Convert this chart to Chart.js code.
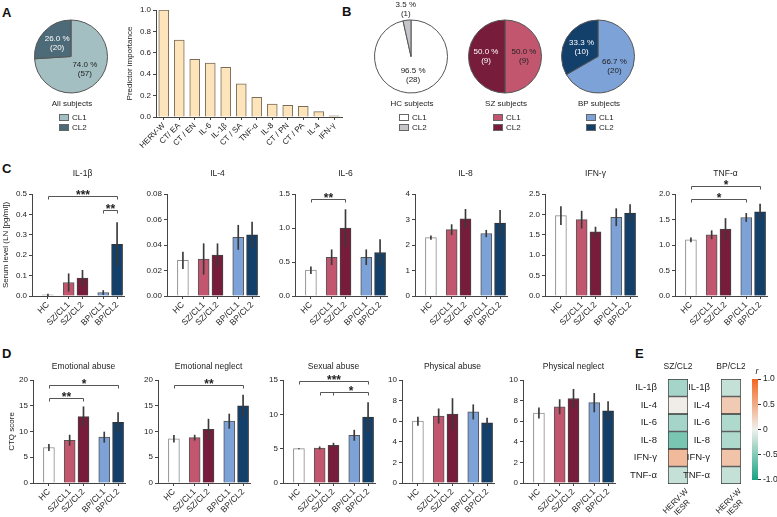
<!DOCTYPE html>
<html>
<head>
<meta charset="utf-8">
<script src="https://cdn.jsdelivr.net/npm/chart.js@4.4.0/dist/chart.umd.min.js"></script>
<style>
body { margin: 0; background: #fff; }
#fig { position: relative; width: 777px; height: 517px; overflow: hidden; background: #fff;
       font-family: "Liberation Sans", Arial, sans-serif; }
#fig canvas { position: absolute; }
.lt { position: absolute; font-weight: bold; font-size: 13px; line-height: 13px; color: #111; }
</style>
</head>
<body>
<div id="fig">
  <div class="lt" style="left:2px;top:6px">A</div>
  <div class="lt" style="left:342px;top:5px">B</div>
  <div class="lt" style="left:2px;top:162px">C</div>
  <div class="lt" style="left:2px;top:347px">D</div>
  <div class="lt" style="left:635px;top:347px">E</div>
</div>
<script>
// ---- data ----
var clusterLabels = ['CL1', 'CL2'];
var pieAllPct = [74.0, 26.0], pieAllN = [57, 20];
var pieHCPct = [96.5, 3.5], pieHCN = [28, 1];
var pieSZPct = [50.0, 50.0], pieSZN = [9, 9];
var pieBPPct = [66.7, 33.3], pieBPN = [20, 10];

var importanceLabels = ['HERV-W', 'CT/ EA', 'CT / EN', 'IL-6', 'IL-1β', 'CT / SA', 'TNF-α', 'IL-8', 'CT / PN', 'CT / PA', 'IL-4', 'IFN-γ'];
var importance = [1.0, 0.72, 0.54, 0.505, 0.465, 0.31, 0.185, 0.12, 0.11, 0.10, 0.05, 0.01];

var groups = ['HC', 'SZ/CL1', 'SZ/CL2', 'BP/CL1', 'BP/CL2'];
var clusterSizes = [1, 2, 2];

var il1bMean = [0.006, 0.066, 0.088, 0.017, 0.253], il1bSem = [0.004, 0.043, 0.038, 0.010, 0.107];
var il4Mean = [0.028, 0.029, 0.032, 0.046, 0.048], il4Sem = [0.0065, 0.012, 0.009, 0.0095, 0.010];
var il6Mean = [0.38, 0.57, 1.0, 0.57, 0.64], il6Sem = [0.05, 0.11, 0.27, 0.11, 0.19];
var il8Mean = [2.29, 2.6, 3.03, 2.45, 2.86], il8Sem = [0.07, 0.2, 0.37, 0.13, 0.5];
var ifngMean = [1.97, 1.87, 1.57, 1.93, 2.03], ifngSem = [0.22, 0.21, 0.12, 0.21, 0.21];
var tnfaMean = [1.1, 1.2, 1.31, 1.54, 1.65], tnfaSem = [0.04, 0.08, 0.21, 0.08, 0.15];

var eaMean = [6.9, 8.3, 12.9, 8.9, 11.8], eaSem = [0.6, 1.0, 1.9, 1.0, 1.85];
var enMean = [8.6, 8.8, 10.4, 12.0, 15.0], enSem = [0.65, 0.5, 2.0, 1.4, 2.05];
var saMean = [5.0, 5.1, 5.5, 6.95, 9.6], saSem = [0.03, 0.18, 0.3, 0.75, 2.1];
var paMean = [6.0, 6.5, 6.7, 6.9, 5.85], paSem = [0.4, 0.7, 1.5, 0.7, 0.45];
var pnMean = [6.8, 7.4, 8.2, 7.8, 7.0], pnSem = [0.5, 0.7, 0.9, 0.9, 0.9];

// significance brackets: a/b = group index, y = height in data units
var il1bSig = [{a: 0, b: 4, y: 0.49, t: '***'}, {a: 3, b: 4, y: 0.42, t: '**'}];
var il6Sig = [{a: 0, b: 2, y: 1.42, t: '**'}];
var tnfaSig = [{a: 0, b: 4, y: 2.15, t: '*'}, {a: 0, b: 3, y: 1.9, t: '*'}];
var eaSig = [{a: 0, b: 4, y: 19.0, t: '*'}, {a: 0, b: 2, y: 16.5, t: '**'}];
var enSig = [{a: 0, b: 4, y: 19.0, t: '**'}];
var saSig = [{a: 0, b: 4, y: 14.85, t: '***'}, {a: 1, b: 4, mid: [2], y: 13.3, t: '*'}];

var cytokines = ['IL-1β', 'IL-4', 'IL-6', 'IL-8', 'IFN-γ', 'TNF-α'];
var heatSZ = [-0.35, 0.02, -0.35, -0.55, 0.4, -0.2];
var heatBP = [-0.2, 0.28, -0.3, -0.3, 0.33, -0.2];
var heatXLabel = ['HERV-W', 'IESR'];
var colorTicks = [-1, -0.5, 0, 0.5, 1];

// ---- styles ----
var groupFill = ['#ffffff', '#c2566f', '#781c3b', '#7da2d8', '#133f6b'];
var groupBorder = ['#8c8c8c', '#555', '#444', '#555', '#333'];
var FONT = '"Liberation Sans", Arial, sans-serif';

Chart.defaults.font.family = FONT;
Chart.defaults.font.size = 8;
Chart.defaults.color = '#222';
Chart.defaults.animation = false;
Chart.defaults.plugins.legend.display = false;
Chart.defaults.plugins.tooltip.enabled = false;

var fig = document.getElementById('fig');

// x positions of the five groups, with a half gap between clusters
var xPos = [], p = 0;
clusterSizes.forEach(function (n, k) {
  if (k) p += 0.5;
  for (var j = 0; j < n; j++) { xPos.push(p); p++; }
});

function mk(w, h) {
  var c = document.createElement('canvas');
  c.width = w; c.height = h;
  c.style.width = w + 'px'; c.style.height = h + 'px';
  fig.appendChild(c);
  return c;
}
function place(chart, x, y, px, py) {
  chart.canvas.style.left = Math.round(x - px) + 'px';
  chart.canvas.style.top = Math.round(y - py) + 'px';
}
function lum(hex) {
  var v = parseInt(hex.slice(1), 16);
  return (0.299 * (v >> 16) + 0.587 * ((v >> 8) & 255) + 0.114 * (v & 255)) / 255;
}
function rColor(r) {
  var neg = [24, 163, 132], mid = [240, 240, 236], pos = [242, 104, 34];
  var e = r < 0 ? neg : pos, t = Math.min(1, Math.abs(r));
  return 'rgb(' + mid.map(function (m, k) { return Math.round(m + (e[k] - m) * t); }).join(',') + ')';
}

// ---- pies ----
function pieChart(pct, n, colors, caption, cx, cy) {
  var cv = mk(120, 140);
  var ch = new Chart(cv, {
    type: 'pie',
    data: { labels: clusterLabels, datasets: [{ data: pct, backgroundColor: colors, borderColor: '#555', borderWidth: 1 }] },
    options: { responsive: false, devicePixelRatio: 1, layout: { padding: { top: 22, bottom: 43, left: 23, right: 23 } } },
    plugins: [{
      id: 'pieDecor',
      afterDraw: function (ch) {
        var c = ch.ctx, meta = ch.getDatasetMeta(0);
        var x0 = meta.data[0].x, y0 = meta.data[0].y;
        c.save();
        c.font = '8px ' + FONT; c.textAlign = 'center'; c.textBaseline = 'middle';
        meta.data.forEach(function (arc, i) {
          var mid = (arc.startAngle + arc.endAngle) / 2, r = arc.outerRadius;
          var small = pct[i] < 10;
          var d = small ? r + 11 : r * 0.52;
          var x = arc.x + Math.cos(mid) * d, y = arc.y + Math.sin(mid) * d;
          c.fillStyle = (!small && lum(colors[i]) < 0.42) ? '#fff' : '#222';
          c.fillText(pct[i].toFixed(1) + ' %', x, y - 4.5);
          c.fillText('(' + n[i] + ')', x, y + 4.5);
        });
        c.fillStyle = '#222';
        c.fillText(caption, x0 + 1, y0 + 47);
        c.textAlign = 'left';
        clusterLabels.forEach(function (lab, i) {
          var yy = y0 + 61 + i * 10;
          c.fillStyle = colors[i]; c.fillRect(x0 - 12, yy - 3.5, 10, 7);
          c.strokeStyle = '#666'; c.lineWidth = 1; c.strokeRect(x0 - 11.5, yy - 3, 9, 6);
          c.fillStyle = '#222'; c.fillText(lab, x0 + 1, yy);
        });
        c.restore();
      }
    }]
  });
  var arc = ch.getDatasetMeta(0).data[0];
  place(ch, cx, cy, arc.x, arc.y);
}

pieChart(pieAllPct, pieAllN, ['#a4bfc1', '#4d6a78'], 'All subjects', 71, 56);
pieChart(pieHCPct, pieHCN, ['#ffffff', '#c6c6ca'], 'HC subjects', 411, 56);
pieChart(pieSZPct, pieSZN, ['#c2566f', '#781c3b'], 'SZ subjects', 505, 56);
pieChart(pieBPPct, pieBPN, ['#7da2d8', '#133f6b'], 'BP subjects', 598, 56);

// ---- predictor importance ----
(function () {
  var cv = mk(221, 155);
  var ch = new Chart(cv, {
    type: 'bar',
    data: { labels: importanceLabels, datasets: [{ data: importance, backgroundColor: '#fde4bb', borderColor: '#7a6c58', borderWidth: 1, barThickness: 10 }] },
    options: {
      responsive: false, devicePixelRatio: 1,
      layout: { padding: { top: 8, right: 4 } },
      scales: {
        x: { grid: { offset: false, drawOnChartArea: false, tickLength: 3, color: '#444' }, border: { color: '#444' },
             ticks: { autoSkip: false, minRotation: 45, maxRotation: 45, padding: 1 },
             afterFit: function (s) { s.height = 40; } },
        y: { min: 0, max: 1, ticks: { stepSize: 0.2, padding: 2, callback: function (v) { return v.toFixed(1); } },
             grid: { drawOnChartArea: false, tickLength: 3, color: '#444' }, border: { color: '#444' },
             title: { display: true, text: 'Predictor importance', padding: 0, font: { size: 8 } },
             afterFit: function (s) { s.width = 31; } }
      }
    }
  });
  place(ch, 156, 10, ch.chartArea.left, ch.chartArea.top);
})();

// ---- grouped bar panels ----
function groupChart(o) {
  var plotH = o.bottom - o.top;
  var yW = o.yW || 34;
  var cv = mk(yW + 92 + 6, 30 + plotH + 44);
  var dec = o.dec;
  var ch = new Chart(cv, {
    type: 'bar',
    data: { datasets: [
      { data: xPos.map(function (x, i) { return { x: x, y: [o.mean[i] - o.sem[i], o.mean[i] + o.sem[i]] }; }),
        backgroundColor: '#3a3a3a', barThickness: 1, maxBarThickness: 1, grouped: false, order: 0 },
      { data: xPos.map(function (x, i) { return { x: x, y: o.mean[i] }; }),
        backgroundColor: groupFill, borderColor: groupBorder, borderWidth: 1, barThickness: 11, maxBarThickness: 11, grouped: false, order: 1 }
    ] },
    options: {
      responsive: false, devicePixelRatio: 1,
      layout: { padding: { top: 30, right: 6, left: 0, bottom: 0 } },
      scales: {
        x: { type: 'linear', min: -1.15, max: 5.5, offset: false,
             afterBuildTicks: function (s) { s.ticks = xPos.map(function (v) { return { value: v }; }); },
             afterFit: function (s) { s.height = 44; },
             ticks: { autoSkip: false, minRotation: 45, maxRotation: 45, padding: 1, font: { size: 8.5 },
                      callback: function (v, i) { return groups[i]; } },
             grid: { display: true, drawOnChartArea: false, drawTicks: true, tickLength: 3, color: '#444', offset: false },
             border: { display: true, color: '#444' } },
        y: { min: 0, max: o.max,
             afterFit: function (s) { s.width = yW; },
             ticks: { stepSize: o.step, padding: 2, callback: function (v) { return v.toFixed(dec); } },
             grid: { drawOnChartArea: false, tickLength: 3, color: '#444' },
             border: { color: '#444' },
             title: o.yTitle ? { display: true, text: o.yTitle, padding: 0, font: { size: 8 } } : { display: false } }
      }
    },
    plugins: [{
      id: 'decor',
      afterDraw: function (ch) {
        var c = ch.ctx, xs = ch.scales.x, ys = ch.scales.y, a = ch.chartArea;
        c.save();
        c.fillStyle = '#222'; c.font = '8.5px ' + FONT; c.textAlign = 'center'; c.textBaseline = 'middle';
        c.fillText(o.title, xs.getPixelForValue((xPos[0] + xPos[xPos.length - 1]) / 2), a.top - o.titleGap);
        (o.sig || []).forEach(function (b) {
          var idx = [b.a].concat(b.mid || [], [b.b]);
          var px = idx.map(function (i) { return Math.round(xs.getPixelForValue(xPos[i])) + 0.5; });
          var py = Math.round(ys.getPixelForValue(b.y)) + 0.5;
          c.strokeStyle = '#555'; c.lineWidth = 1;
          c.beginPath();
          c.moveTo(px[0], py); c.lineTo(px[px.length - 1], py);
          px.forEach(function (x) { c.moveTo(x, py); c.lineTo(x, py + 3); });
          c.stroke();
          c.font = 'bold 12px ' + FONT; c.textBaseline = 'alphabetic';
          c.fillText(b.t, (px[px.length - 2] + px[px.length - 1]) / 2, py + 2);
        });
        c.restore();
      }
    }]
  });
  place(ch, o.ax, o.top, ch.chartArea.left, ch.chartArea.top);
}

var cTop = 194, cBottom = 296, cGap = 20;
groupChart({ title: 'IL-1β', mean: il1bMean, sem: il1bSem, max: 0.5, step: 0.1, dec: 1, sig: il1bSig, ax: 32, top: cTop, bottom: cBottom, titleGap: cGap, yTitle: 'Serum level (LN [pg/ml])', yW: 31 });
groupChart({ title: 'IL-4', mean: il4Mean, sem: il4Sem, max: 0.08, step: 0.02, dec: 2, ax: 167, top: cTop, bottom: cBottom, titleGap: cGap });
groupChart({ title: 'IL-6', mean: il6Mean, sem: il6Sem, max: 1.5, step: 0.5, dec: 1, sig: il6Sig, ax: 295, top: cTop, bottom: cBottom, titleGap: cGap });
groupChart({ title: 'IL-8', mean: il8Mean, sem: il8Sem, max: 4, step: 1, dec: 0, ax: 415, top: cTop, bottom: cBottom, titleGap: cGap });
groupChart({ title: 'IFN-γ', mean: ifngMean, sem: ifngSem, max: 2.5, step: 0.5, dec: 1, ax: 545, top: cTop, bottom: cBottom, titleGap: cGap });
groupChart({ title: 'TNF-α', mean: tnfaMean, sem: tnfaSem, max: 2.0, step: 0.5, dec: 1, sig: tnfaSig, ax: 675, top: cTop, bottom: cBottom, titleGap: cGap });

var dTop = 380, dBottom = 483, dGap = 13;
groupChart({ title: 'Emotional abuse', mean: eaMean, sem: eaSem, max: 20, step: 5, dec: 0, sig: eaSig, ax: 33, top: dTop, bottom: dBottom, titleGap: dGap, yTitle: 'CTQ score', yW: 26 });
groupChart({ title: 'Emotional neglect', mean: enMean, sem: enSem, max: 20, step: 5, dec: 0, sig: enSig, ax: 158, top: dTop, bottom: dBottom, titleGap: dGap });
groupChart({ title: 'Sexual abuse', mean: saMean, sem: saSem, max: 15, step: 5, dec: 0, sig: saSig, ax: 283, top: dTop, bottom: dBottom, titleGap: dGap });
groupChart({ title: 'Physical abuse', mean: paMean, sem: paSem, max: 10, step: 2, dec: 0, ax: 402, top: dTop, bottom: dBottom, titleGap: dGap });
groupChart({ title: 'Physical neglect', mean: pnMean, sem: pnSem, max: 10, step: 2, dec: 0, ax: 523, top: dTop, bottom: dBottom, titleGap: dGap });

// ---- heatmaps ----
function heatChart(title, r, left, top) {
  var cv = mk(64, 165);
  var ch = new Chart(cv, {
    type: 'bar',
    data: { labels: cytokines, datasets: [{ data: cytokines.map(function () { return 1; }), backgroundColor: r.map(rColor),
            borderColor: '#3a3a3a', borderWidth: 1, borderSkipped: false, barPercentage: 1, categoryPercentage: 1 }] },
    options: {
      responsive: false, devicePixelRatio: 1, indexAxis: 'y',
      layout: { padding: { top: 22, right: 4, bottom: 38 } },
      scales: {
        x: { min: 0, max: 1, display: false },
        y: { ticks: { font: { size: 9.5 }, padding: 3, color: '#222' }, grid: { display: false }, border: { display: false },
             afterFit: function (s) { s.width = 40; } }
      }
    },
    plugins: [{
      id: 'heatText',
      afterDraw: function (ch) {
        var c = ch.ctx, a = ch.chartArea, xs = ch.scales.x;
        c.save(); c.fillStyle = '#222'; c.font = '8.5px ' + FONT; c.textAlign = 'center'; c.textBaseline = 'middle';
        c.fillText(title, (a.left + a.right) / 2, a.top - 12);
        // rotated column label, lines centred on each other
        c.font = '8px ' + FONT;
        var w = c.measureText(heatXLabel[0]).width;
        c.translate(xs.getPixelForValue(0.5) + 9, a.bottom + 6);
        c.rotate(-Math.PI / 4);
        heatXLabel.forEach(function (t, i) { c.fillText(t, -w / 2, i * 9); });
        c.restore();
      }
    }]
  });
  place(ch, left, top, ch.chartArea.left, ch.chartArea.top);
}
heatChart('SZ/CL2', heatSZ, 668, 379);
heatChart('BP/CL2', heatBP, 721, 379);

// ---- colour bar ----
(function () {
  var cv = mk(32, 130);
  var ch = new Chart(cv, {
    type: 'bar',
    data: { labels: [''], datasets: [{ data: [[colorTicks[0], colorTicks[colorTicks.length - 1]]],
      backgroundColor: function (ctx) {
        var a = ctx.chart.chartArea;
        if (!a) return '#fff';
        var g = ctx.chart.ctx.createLinearGradient(0, a.bottom, 0, a.top);
        g.addColorStop(0, rColor(-1)); g.addColorStop(0.5, rColor(0)); g.addColorStop(1, rColor(1));
        return g;
      }, barPercentage: 1, categoryPercentage: 1 }] },
    options: {
      responsive: false, devicePixelRatio: 1,
      layout: { padding: { top: 22, bottom: 4, left: 0, right: 0 } },
      scales: {
        x: { display: false },
        y: { position: 'right', min: -1, max: 1,
             afterBuildTicks: function (s) { s.ticks = colorTicks.map(function (v) { return { value: v }; }); },
             ticks: { font: { size: 8.5 }, padding: 2, color: '#222', callback: function (v) { return v === 0 ? '0' : v.toFixed(1); } },
             grid: { drawOnChartArea: false, tickLength: 3, color: '#333' }, border: { display: false },
             afterFit: function (s) { s.width = 26; } }
      }
    },
    plugins: [{
      id: 'rLabel',
      afterDraw: function (ch) {
        var c = ch.ctx, a = ch.chartArea;
        c.save(); c.fillStyle = '#222'; c.font = 'italic 9px ' + FONT; c.textAlign = 'center'; c.textBaseline = 'middle';
        c.fillText('r', (a.left + a.right) / 2 + 2, a.top - 8);
        c.restore();
      }
    }]
  });
  place(ch, 752, 379, ch.chartArea.left, ch.chartArea.top);
})();
</script>
</body>
</html>
